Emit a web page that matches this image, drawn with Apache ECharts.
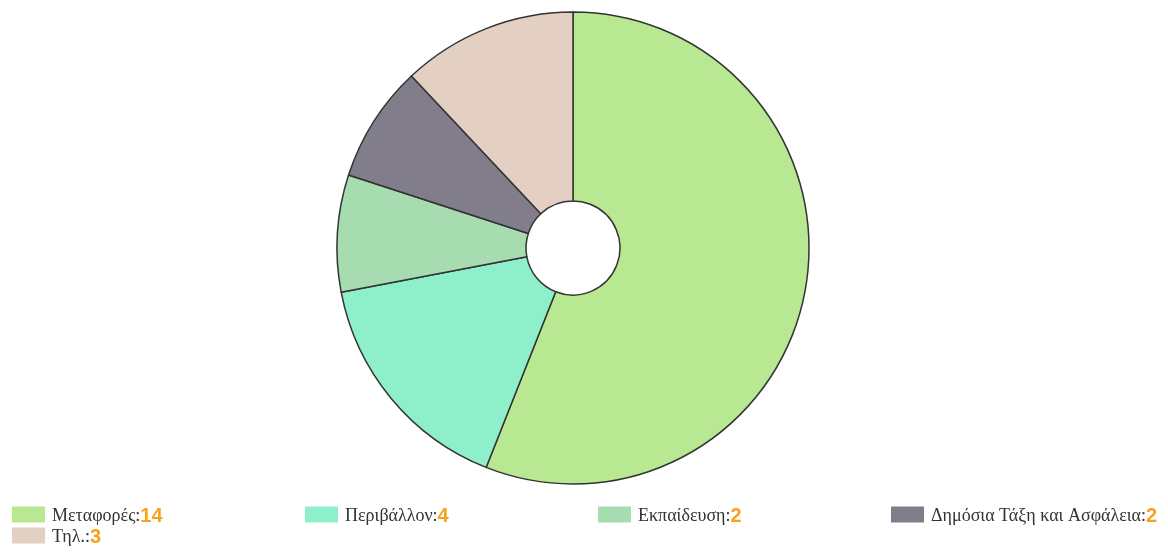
<!DOCTYPE html>
<html>
<head>
<meta charset="utf-8">
<script src="https://cdn.jsdelivr.net/npm/echarts@6/dist/echarts.min.js"></script>
<style>
html,body{margin:0;padding:0;background:#fff;}
#chart{width:1168px;height:555px;}
</style>
</head>
<body>
<div id="chart"></div>
<script>
const categories = ['Μεταφορές', 'Περιβάλλον', 'Εκπαίδευση', 'Δημόσια Τάξη και Ασφάλεια', 'Τηλ.'];
const values = [14, 4, 2, 2, 3];
const colors = ['#b9e892', '#8eefcb', '#a7dcb1', '#817d8b', '#e4d0c3'];

const legendPos = [[12, 506], [305, 506], [598, 506], [891, 506], [12, 527]];

const chart = echarts.init(document.getElementById('chart'));
const data = categories.map((c, i) => ({ name: c, value: values[i], itemStyle: { color: colors[i] } }));
const legends = categories.map((c, i) => ({
  left: legendPos[i][0],
  top: legendPos[i][1],
  padding: 0,
  itemWidth: 33,
  itemHeight: 16,
  itemGap: 5,
  icon: 'rect',
  itemStyle: { borderWidth: 0 },
  data: [c],
  formatter: function (name) {
    return '{n|' + name + ':}{v|' + values[categories.indexOf(name)] + '}';
  },
  textStyle: {
    padding: [3, 0, 0, 2],
    rich: {
      n: { fontFamily: 'Liberation Serif', fontSize: 18, color: '#333', lineHeight: 18 },
      v: { fontFamily: 'Liberation Sans', fontSize: 20, fontWeight: 'bold', color: '#f5a21c', lineHeight: 18 }
    }
  }
}));
chart.setOption({
  animation: false,
  legend: legends,
  series: [{
    type: 'pie',
    center: [573, 248],
    radius: [47, 236],
    startAngle: 90,
    clockwise: true,
    label: { show: false },
    labelLine: { show: false },
    itemStyle: { borderColor: '#333', borderWidth: 1.5 },
    emphasis: { disabled: true },
    data: data
  }]
});
</script>
</body>
</html>
